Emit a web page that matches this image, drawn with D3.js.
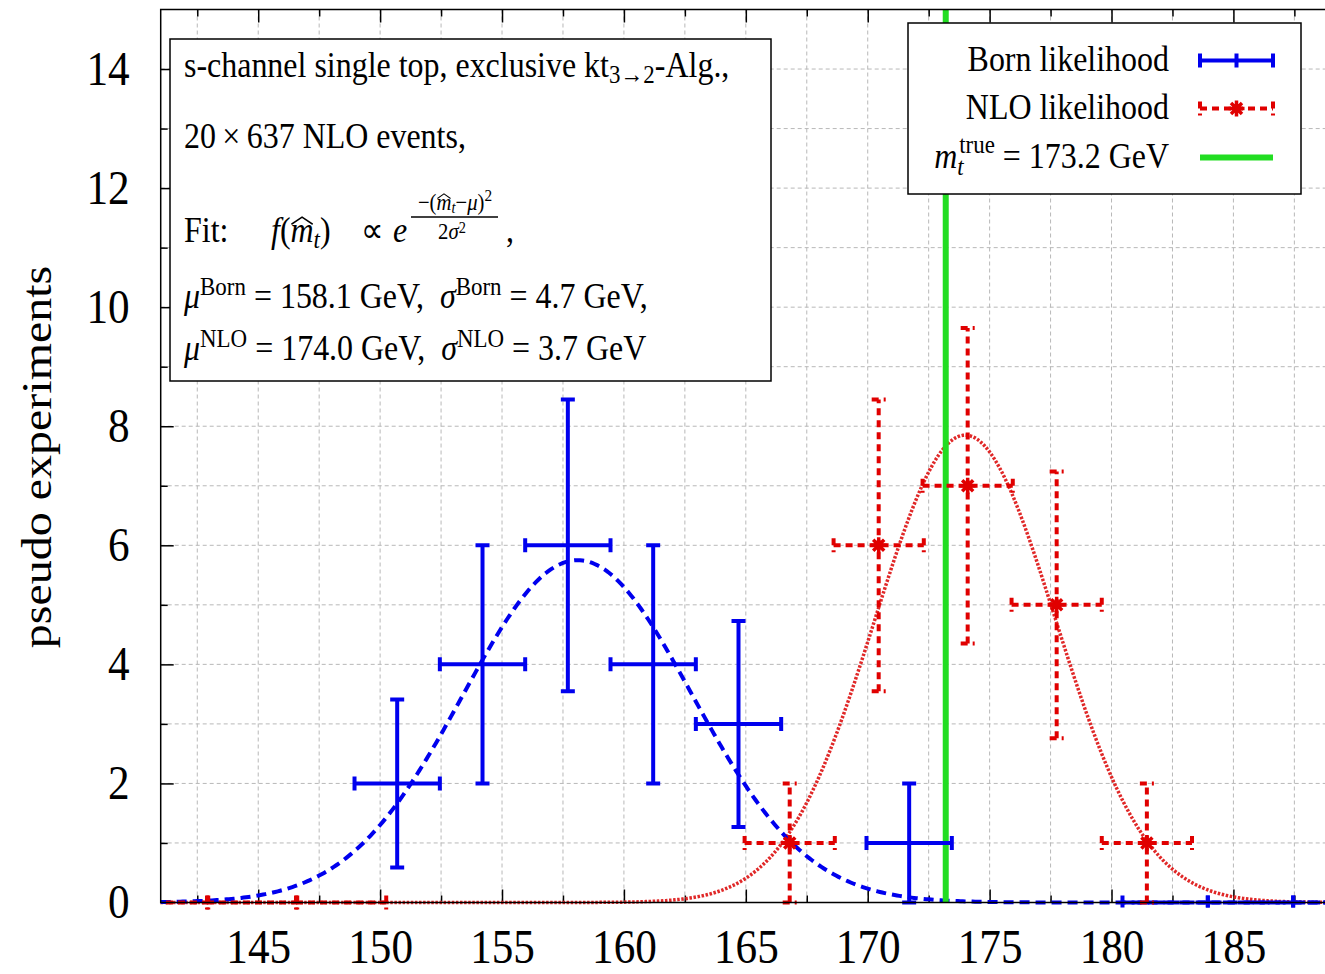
<!DOCTYPE html>
<html>
<head>
<meta charset="utf-8">
<script src="https://cdn.jsdelivr.net/npm/d3@7"></script>
<style>
  html, body { margin: 0; padding: 0; background: #fff; overflow: hidden; }
  svg { display: block; }
  text { font-family: "Liberation Serif", "Times New Roman", serif; fill: #000; white-space: pre; }
</style>
</head>
<body>
<svg id="chart" width="1325" height="974"></svg>
<script>
// ---- Born likelihood histogram (bin centre, count, Poisson error) ----
const bornCenters = [150.7, 154.2, 157.7, 161.2, 164.7, 171.7];
const bornCounts  = [2, 4, 6, 4, 3, 1];
const bornErrors  = [1.41, 2.0, 2.45, 2.0, 1.73, 1.0];
const bornHalfWidth = 1.75;
const bornEmptyCenters = [182.2, 185.7, 189.2];

// ---- NLO likelihood histogram ----
const nloCenters = [166.8, 170.45, 174.1, 177.75, 181.45];
const nloCounts  = [1, 6, 7, 5, 1];
const nloErrors  = [1.0, 2.45, 2.65, 2.24, 1.0];
const nloHalfWidth = 1.85;
const nloEmptyCenters = [141.1, 144.75, 148.4];

// ---- Gaussian fits ----
const bornFit = { mu: 158.1, sigma: 4.7, peak: 5.75 };
const nloFit  = { mu: 174.0, sigma: 3.7, peak: 7.85 };
const mtTrue = 173.2;

// ---- axes ----
const xDomain = [141, 190];
const yDomain = [0, 15];
const xTickValues = [145, 150, 155, 160, 165, 170, 175, 180, 185];
const xMinorValues = [142.5, 147.5, 152.5, 157.5, 162.5, 167.5, 172.5, 177.5, 182.5, 187.5];
const yTickValues = [0, 2, 4, 6, 8, 10, 12, 14];
const yMinorValues = [1, 3, 5, 7, 9, 11, 13];

const BLUE = "#0000ee", RED = "#e00000", GREEN = "#22dd22";
const SQUEEZE = 0.9;   // glyphs are drawn slightly condensed

const svg = d3.select("#chart");
const plot = { left: 160.7, top: 9.5, bottom: 902.5, pxPerUnit: 24.38 };
const x = d3.scaleLinear().domain(xDomain)
  .range([plot.left, plot.left + (xDomain[1] - xDomain[0]) * plot.pxPerUnit]);
const y = d3.scaleLinear().domain(yDomain).range([plot.bottom, plot.top]);
const plotRight = x(xDomain[1]);

// marks may spill a few pixels below the zero line
svg.append("defs").append("clipPath").attr("id", "plotClip")
  .append("rect").attr("x", plot.left).attr("y", plot.top)
  .attr("width", plotRight - plot.left).attr("height", plot.bottom - plot.top + 10);

// ---- grid ----
const grid = svg.append("g").attr("stroke", "#b8b8b8").attr("stroke-width", 1)
  .attr("stroke-dasharray", "4,3");
grid.selectAll("line.gx").data(xTickValues.concat(xMinorValues)).join("line")
  .attr("x1", d => x(d)).attr("x2", d => x(d)).attr("y1", plot.top).attr("y2", plot.bottom);
grid.selectAll("line.gy").data(d3.range(1, 15)).join("line")
  .attr("y1", d => y(d)).attr("y2", d => y(d)).attr("x1", plot.left).attr("x2", plotRight);

// ---- ticks and labels ----
function styleAxis(g) {
  g.select(".domain").remove();
  g.selectAll("line").attr("stroke", "#000").attr("stroke-width", 1.5);
  g.attr("font-family", null).attr("font-size", null);
}
svg.append("g").attr("transform", `translate(0,${plot.bottom})`)
  .call(d3.axisBottom(x).tickValues(xTickValues).tickSize(-13).tickSizeOuter(0).tickPadding(26))
  .call(styleAxis)
  .selectAll("text").attr("font-size", 48).attr("transform", `scale(${SQUEEZE},1)`);
svg.append("g").attr("transform", `translate(0,${plot.bottom})`)
  .call(d3.axisBottom(x).tickValues(xMinorValues).tickSize(-7).tickSizeOuter(0).tickFormat(() => ""))
  .call(styleAxis);
svg.append("g").attr("transform", `translate(0,${plot.top})`)
  .call(d3.axisTop(x).tickValues(xTickValues).tickSize(-13).tickSizeOuter(0).tickFormat(() => ""))
  .call(styleAxis);
svg.append("g").attr("transform", `translate(0,${plot.top})`)
  .call(d3.axisTop(x).tickValues(xMinorValues).tickSize(-7).tickSizeOuter(0).tickFormat(() => ""))
  .call(styleAxis);
svg.append("g").attr("transform", `translate(${plot.left},0)`)
  .call(d3.axisLeft(y).tickValues(yTickValues).tickSize(-13).tickSizeOuter(0).tickPadding(31))
  .call(styleAxis)
  .selectAll("text").attr("font-size", 48).attr("x", -31 / SQUEEZE)
  .attr("transform", `scale(${SQUEEZE},1)`);
svg.append("g").attr("transform", `translate(${plot.left},0)`)
  .call(d3.axisLeft(y).tickValues(yMinorValues).tickSize(-7).tickSizeOuter(0).tickFormat(() => ""))
  .call(styleAxis);

svg.append("text").attr("transform", `translate(51,457) scale(${SQUEEZE},1) rotate(-90)`)
  .attr("text-anchor", "middle").attr("font-size", 48).text("pseudo experiments");

// ---- data layer ----
const layer = svg.append("g").attr("clip-path", "url(#plotClip)");

function gaussian(fit) {
  return d3.range(xDomain[0], xDomain[1] + 0.001, 0.1)
    .map(m => [m, fit.peak * Math.exp(-((m - fit.mu) ** 2) / (2 * fit.sigma ** 2))]);
}
const line = d3.line().x(d => x(d[0])).y(d => y(d[1]));
layer.append("path").datum(gaussian(nloFit)).attr("d", line).attr("fill", "none")
  .attr("stroke", "#e02828").attr("stroke-width", 3.5).attr("stroke-dasharray", "2.5,1.6");
layer.append("path").datum(gaussian(bornFit)).attr("d", line).attr("fill", "none")
  .attr("stroke", BLUE).attr("stroke-width", 4).attr("stroke-dasharray", "10,6");

// true top mass
layer.append("line").attr("x1", x(mtTrue)).attr("x2", x(mtTrue))
  .attr("y1", plot.top).attr("y2", plot.bottom).attr("stroke", GREEN).attr("stroke-width", 6);

const CAP = 7;
function errorBars(g, centers, counts, errors, hw, color, dash) {
  const pts = centers.map((c, i) => ({ c, n: counts[i], e: errors[i] }));
  const gg = g.append("g").attr("stroke", color).attr("stroke-width", 4)
    .attr("fill", "none").attr("stroke-dasharray", dash);
  const sel = gg.selectAll("g").data(pts).join("g");
  // vertical bar with caps
  sel.filter(d => d.e > 0).append("path")
    .attr("d", d => `M${x(d.c)},${y(d.n - d.e)}V${y(d.n + d.e)}`);
  sel.filter(d => d.e > 0).append("path")
    .attr("d", d => `M${x(d.c) - CAP},${y(d.n - d.e)}H${x(d.c) + CAP}M${x(d.c) - CAP},${y(d.n + d.e)}H${x(d.c) + CAP}`);
  // horizontal bar with caps
  sel.append("path").attr("d", d => `M${x(d.c - hw)},${y(d.n)}H${x(d.c + hw)}`);
  sel.append("path")
    .attr("d", d => `M${x(d.c - hw)},${y(d.n) - CAP}V${y(d.n) + CAP}M${x(d.c + hw)},${y(d.n) - CAP}V${y(d.n) + CAP}`);
  return sel;
}
const starPath = "M-8,0H8M0,-8V8M-5.5,-5.5L5.5,5.5M-5.5,5.5L5.5,-5.5";

errorBars(layer, nloEmptyCenters, nloEmptyCenters.map(() => 0), nloEmptyCenters.map(() => 0),
  nloHalfWidth, RED, "7,5");
errorBars(layer, bornEmptyCenters, bornEmptyCenters.map(() => 0), bornEmptyCenters.map(() => 0),
  bornHalfWidth, BLUE, "12,3");
errorBars(layer, nloCenters, nloCounts, nloErrors, nloHalfWidth, RED, "7,5");
layer.append("g").selectAll("path").data(nloCenters).join("path")
  .attr("transform", (c, i) => `translate(${x(c)},${y(nloCounts[i])})`)
  .attr("d", starPath).attr("stroke", RED).attr("stroke-width", 3.5);
errorBars(layer, bornCenters, bornCounts, bornErrors, bornHalfWidth, BLUE, null);

// ---- frame ----
svg.append("rect").attr("x", plot.left).attr("y", plot.top)
  .attr("width", plotRight - plot.left).attr("height", plot.bottom - plot.top)
  .attr("fill", "none").attr("stroke", "#000").attr("stroke-width", 1.5);

// condensed text anchored at (px, py); returns the text selection
function label(parent, px, py, size, anchor) {
  const g = parent.append("g").attr("transform", `translate(${px},${py}) scale(${SQUEEZE},1)`);
  return g.append("text").attr("font-size", size).attr("text-anchor", anchor || "start");
}
const FS = 35.5, SUP = 25.5, FR = 23;

// ---- annotation box ----
const info = svg.append("g");
info.append("rect").attr("x", 170).attr("y", 39).attr("width", 601).attr("height", 342)
  .attr("fill", "#fff").attr("stroke", "#000").attr("stroke-width", 1.5);

const t1 = label(info, 184, 77, FS);
t1.append("tspan").text("s-channel single top, exclusive kt");
t1.append("tspan").attr("font-size", SUP).attr("dy", 6).text("3\u21922");
t1.append("tspan").attr("dy", -6).text("-Alg.,");

label(info, 184, 148, FS).text("20\u2009\u00d7\u2009637 NLO events,");

label(info, 184, 242, FS).text("Fit:");
const fm = label(info, 271, 242, FS);
fm.append("tspan").attr("font-style", "italic").text("f");
fm.append("tspan").text("(");
fm.append("tspan").attr("font-style", "italic").text("m");
fm.append("tspan").attr("font-style", "italic").attr("font-size", SUP).attr("dy", 6).text("t");
fm.append("tspan").attr("dy", -6).text(")");
label(info, 361, 242, FS).text("\u221d");
label(info, 393, 242, FS).attr("font-style", "italic").text("e");
const num = label(info, 455, 210, FR, "middle");
num.append("tspan").text("\u2212(");
num.append("tspan").attr("font-style", "italic").text("m");
num.append("tspan").attr("font-style", "italic").attr("font-size", 16).attr("dy", 3).text("t");
num.append("tspan").attr("dy", -3).text("\u2212");
num.append("tspan").attr("font-style", "italic").text("\u03bc");
num.append("tspan").text(")");
num.append("tspan").attr("font-size", 17).attr("dy", -9).text("2");
info.append("line").attr("x1", 411).attr("x2", 498).attr("y1", 217).attr("y2", 217)
  .attr("stroke", "#000").attr("stroke-width", 1.3);
const den = label(info, 452, 239, FR, "middle");
den.append("tspan").text("2");
den.append("tspan").attr("font-style", "italic").text("\u03c3");
den.append("tspan").attr("font-size", 16).attr("dy", -6).text("2");
label(info, 506, 242, FS).text(",");

// wide hats over the m's (drawn in the text's own condensed frame)
function hat(textSel, idx, size) {
  const r = textSel.node().getExtentOfChar(idx);
  const top = -size * 0.5;
  d3.select(textSel.node().parentNode).append("path")
    .attr("d", `M${r.x + 1},${top}L${r.x + r.width / 2},${top - size * 0.2}L${r.x + r.width - 1},${top}`)
    .attr("fill", "none").attr("stroke", "#000").attr("stroke-width", size > 25 ? 1.6 : 1.1);
}
hat(fm, 2, FS);
hat(num, 2, FR);

function paramLine(yPos, tag, mu, sigma, last) {
  const t = label(info, 184, yPos, FS);
  t.append("tspan").attr("font-style", "italic").text("\u03bc");
  t.append("tspan").attr("font-size", SUP).attr("dy", -13).text(tag);
  t.append("tspan").attr("dy", 13).text(` = ${mu} GeV,\u2002`);
  t.append("tspan").attr("font-style", "italic").text("\u03c3");
  t.append("tspan").attr("font-size", SUP).attr("dy", -13).text(tag);
  t.append("tspan").attr("dy", 13).text(` = ${sigma} GeV${last ? "" : ","}`);
}
paramLine(308, "Born", bornFit.mu.toFixed(1), bornFit.sigma.toFixed(1), false);
paramLine(360, "NLO", nloFit.mu.toFixed(1), nloFit.sigma.toFixed(1), true);

// ---- legend ----
const leg = svg.append("g");
leg.append("rect").attr("x", 908).attr("y", 23).attr("width", 393).attr("height", 171)
  .attr("fill", "#fff").attr("stroke", "#000").attr("stroke-width", 1.5);
const lx0 = 1200, lx1 = 1273, lxm = (lx0 + lx1) / 2;
label(leg, 1169, 71, FS, "end").text("Born likelihood");
leg.append("path").attr("d",
  `M${lx0},60.5H${lx1}M${lx0},${60.5 - CAP}V${60.5 + CAP}M${lx1},${60.5 - CAP}V${60.5 + CAP}M${lxm},${60.5 - CAP}V${60.5 + CAP}`)
  .attr("stroke", BLUE).attr("stroke-width", 4).attr("fill", "none");
label(leg, 1169, 119, FS, "end").text("NLO likelihood");
leg.append("path").attr("d",
  `M${lx0},108.5H${lx1}M${lx0},${108.5 - CAP}V${108.5 + CAP}M${lx1},${108.5 - CAP}V${108.5 + CAP}`)
  .attr("stroke", RED).attr("stroke-width", 4).attr("stroke-dasharray", "7,5").attr("fill", "none");
leg.append("path").attr("transform", `translate(${lxm},108.5)`).attr("d", starPath)
  .attr("stroke", RED).attr("stroke-width", 3.5);
const lt = label(leg, 1169, 168, FS, "end");
lt.append("tspan").attr("font-style", "italic").text("m");
lt.append("tspan").attr("font-style", "italic").attr("font-size", SUP).attr("dy", 7).text("t");
lt.append("tspan").attr("font-size", SUP).attr("dx", -5).attr("dy", -22).text("true");
lt.append("tspan").attr("dy", 15).text(` = ${mtTrue.toFixed(1)} GeV`);
leg.append("line").attr("x1", lx0).attr("x2", lx1).attr("y1", 157.5).attr("y2", 157.5)
  .attr("stroke", GREEN).attr("stroke-width", 6);
</script>
</body>
</html>
